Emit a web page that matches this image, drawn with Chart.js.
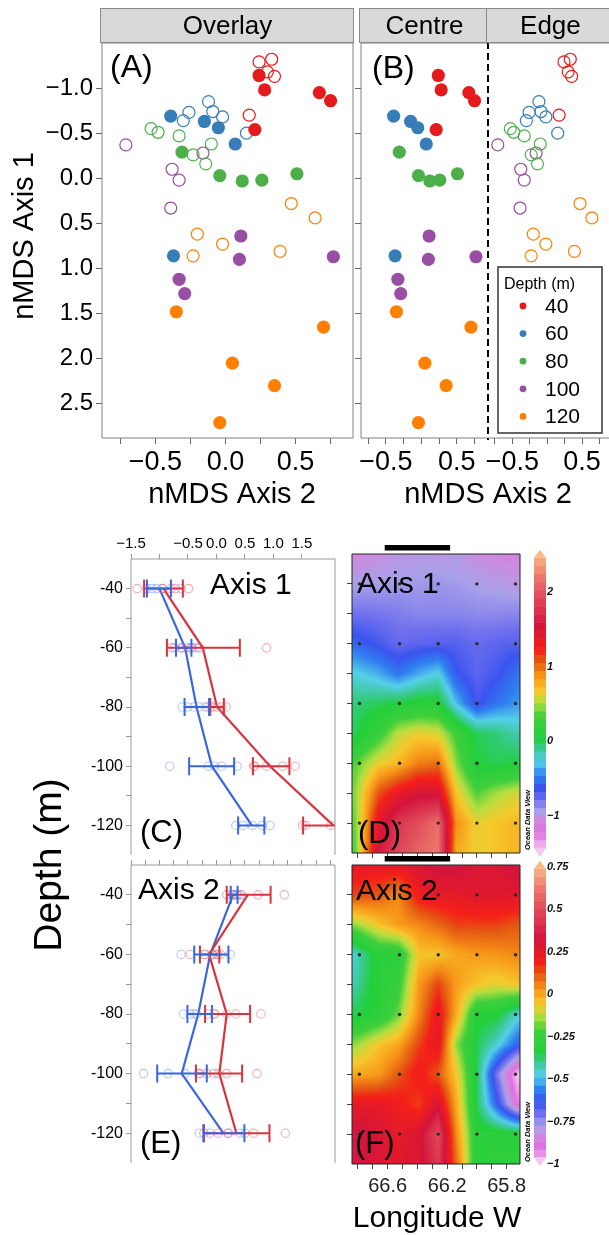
<!DOCTYPE html>
<html lang="en">
<head>
<meta charset="utf-8">
<title>nMDS community axes by depth and longitude</title>
<script src="https://cdn.jsdelivr.net/npm/chart.js@4.4.1/dist/chart.umd.min.js"></script>
<style>
  html, body { margin: 0; padding: 0; background: #fff; overflow: hidden; }
  #page { position: relative; width: 609px; height: 1235px; overflow: hidden; }
  #page canvas { position: absolute; left: 0; top: 0; pointer-events: none; }
</style>
</head>
<body>
<div id="page">
  <canvas id="chartA" width="620" height="1235"></canvas>
  <canvas id="chartBc" width="620" height="1235"></canvas>
  <canvas id="chartBe" width="620" height="1235"></canvas>
  <canvas id="chartC" width="620" height="1235"></canvas>
  <canvas id="chartD" width="620" height="1235"></canvas>
  <canvas id="chartE" width="620" height="1235"></canvas>
  <canvas id="chartF" width="620" height="1235"></canvas>
</div>
<script>
const FONT = "'Liberation Sans', Arial, Helvetica, sans-serif";
const W = 620, H = 1235;

/* nMDS scores, [Axis 2, Axis 1], centre stations (filled) and edge stations (open) */
const depthLabels = ['40', '60', '80', '100', '120'];
const depthColours = ['#e41a1c', '#377eb8', '#4daf4a', '#984ea3', '#ff7f00'];

const centre40 = [[0.24, -1.14], [0.28, -0.98], [0.67, -0.95], [0.75, -0.86], [0.21, -0.54]];
const edge40 = [[0.24, -1.29], [0.33, -1.32], [0.30, -1.18], [0.35, -1.13], [0.17, -0.70]];
const centre60 = [[-0.39, -0.69], [-0.15, -0.63], [-0.05, -0.56], [0.07, -0.38], [-0.37, 0.86]];
const edge60 = [[-0.12, -0.85], [-0.26, -0.73], [-0.30, -0.64], [-0.09, -0.74], [-0.02, -0.68], [0.15, -0.50]];
const centre80 = [[-0.31, -0.29], [-0.04, -0.03], [0.12, 0.03], [0.26, 0.02], [0.51, -0.05]];
const edge80 = [[-0.53, -0.55], [-0.48, -0.51], [-0.33, -0.47], [-0.10, -0.38], [-0.23, -0.26], [-0.14, -0.16]];
const centre100 = [[0.11, 0.64], [0.10, 0.90], [0.77, 0.87], [-0.33, 1.12], [-0.29, 1.28]];
const edge100 = [[-0.71, -0.37], [-0.16, -0.28], [-0.38, -0.10], [-0.33, 0.02], [-0.39, 0.33]];
const centre120 = [[-0.35, 1.48], [0.70, 1.65], [0.05, 2.05], [0.35, 2.30], [-0.04, 2.71]];
const edge120 = [[0.47, 0.28], [0.64, 0.44], [-0.20, 0.62], [-0.02, 0.73], [-0.23, 0.86], [0.39, 0.81]];

const centreScores = [centre40, centre60, centre80, centre100, centre120];
const edgeScores = [edge40, edge60, edge80, edge100, edge120];

const nmdsXTicks = [-0.75, -0.5, -0.25, 0, 0.25, 0.5, 0.75];
const nmdsXLabelsA = [-0.5, 0, 0.5];
const nmdsXLabelsB = [-0.5, 0.5];
const nmdsYTicks = [-1, -0.5, 0, 0.5, 1, 1.5, 2, 2.5];

/* depth profiles: centre (red) and edge (blue) means, error bars and samples */
const profileDepths = [-40, -60, -80, -100, -120];
const depthTicks = [-120, -110, -100, -90, -80, -70, -60, -50, -40];
const depthTickLabels = [-120, -100, -80, -60, -40];
const axis1Ticks = [-1.5, -1, -0.5, 0, 0.5, 1, 1.5];
const axis1TickLabels = [-1.5, -0.5, 0, 0.5, 1, 1.5];
const axis2Ticks = [-1.5, -1.25, -1, -0.75, -0.5, -0.25, 0, 0.25, 0.5, 0.75, 1, 1.25, 1.5, 1.75, 2];

const ax1CentreMean = [-0.93, -0.24, 0.01, 0.94, 2.05];
const ax1CentreLo = [-1.27, -0.87, -0.11, 0.64, 1.52];
const ax1CentreHi = [-0.59, 0.41, 0.13, 1.28, 2.58];
const ax1EdgeMean = [-1.00, -0.55, -0.35, -0.08, 0.62];
const ax1EdgeLo = [-1.22, -0.71, -0.56, -0.48, 0.38];
const ax1EdgeHi = [-0.80, -0.44, -0.13, 0.31, 0.84];
const ax1CentreSamples = [[-1.39, -0.95, -0.80, -0.72, -0.49], [-0.79, -0.60, -0.45, -0.30, 0.88], [-0.15, -0.06, 0.01, 0.09, 0.17], [0.65, 0.67, 0.88, 1.16, 1.38], [1.51, 1.56, 2.01, 2.30, 2.80]];
const ax1EdgeSamples = [[-1.22, -1.13, -1.05, -0.95, -0.62], [-0.73, -0.61, -0.52, -0.43, -0.35], [-0.60, -0.50, -0.40, -0.30, -0.20, -0.10], [-0.82, -0.14, -0.04, 0.09, 0.36], [0.34, 0.47, 0.63, 0.80, 0.94]];

const ax2CentreMean = [0.55, -0.13, 0.18, 0.05, 0.35];
const ax2CentreLo = [0.18, -0.29, -0.20, -0.36, -0.22];
const ax2CentreHi = [0.95, 0.05, 0.59, 0.45, 0.93];
const ax2EdgeMean = [0.29, -0.11, -0.32, -0.61, 0.12];
const ax2EdgeLo = [0.25, -0.39, -0.51, -1.04, -0.23];
const ax2EdgeHi = [0.37, 0.21, -0.08, -0.17, 0.49];
const ax2CentreSamples = [[0.18, 0.35, 0.44, 0.73, 1.19], [-0.46, -0.21, -0.07, 0.02, 0.07], [-0.15, -0.03, 0.18, 0.34, 0.78], [-0.29, -0.17, 0.03, 0.18, 0.71], [-0.22, 0.03, 0.21, 0.65, 1.21]];
const ax2EdgeSamples = [[0.27, 0.29, 0.31, 0.37, 0.41], [-0.62, -0.20, -0.08, 0.00, 0.24], [-0.58, -0.46, -0.39, -0.35, -0.04], [-1.28, -0.85, -0.55, -0.32, -0.05], [-0.30, -0.11, 0.20, 0.41, 0.50]];

/* sections across the eddy: gridded axis scores by longitude (W) and depth */
const stationLon = [66.79, 66.52, 66.26, 66.00, 65.74];
const stationDepth = [-40, -60, -80, -100, -120];
const centreLonRange = [66.62, 66.18];
const gridLon = [66.82, 66.66, 66.53, 66.39, 66.26, 66.14, 66.00, 65.87, 65.73];
const gridDepth = [-30, -40, -50, -60, -70, -80, -90, -100, -110, -120, -130];
const axis1Field = [
  [-1.08, -1.04, -1.00, -0.98, -1.00, -0.98, -1.04, -1.08, -1.10],
  [-0.95, -0.93, -0.92, -0.92, -0.90, -0.92, -0.95, -0.97, -1.00],
  [-0.78, -0.80, -0.82, -0.85, -0.85, -0.85, -0.86, -0.86, -0.85],
  [-0.55, -0.65, -0.75, -0.72, -0.70, -0.70, -0.75, -0.72, -0.70],
  [-0.25, -0.35, -0.50, -0.35, -0.25, -0.60, -0.72, -0.65, -0.50],
  [-0.05, 0.00, 0.05, 0.10, 0.10, -0.30, -0.65, -0.50, -0.40],
  [0.00, 0.25, 0.55, 0.65, 0.60, 0.30, 0.00, -0.05, -0.15],
  [0.35, 0.65, 0.75, 0.95, 1.00, 0.45, 0.05, 0.00, 0.05],
  [0.45, 1.10, 1.35, 1.50, 1.50, 0.70, 0.35, 0.50, 0.60],
  [0.40, 1.40, 1.80, 1.95, 2.15, 0.90, 0.65, 0.70, 0.75],
  [0.35, 1.60, 1.90, 2.10, 2.20, 0.80, 0.65, 0.70, 0.75]
];
const axis2Field = [
  [0.25, 0.25, 0.25, 0.30, 0.35, 0.35, 0.30, 0.30, 0.35],
  [0.15, 0.12, 0.05, 0.22, 0.25, 0.25, 0.28, 0.28, 0.27],
  [-0.15, -0.05, 0.02, 0.05, 0.10, 0.15, 0.15, 0.15, 0.12],
  [-0.45, -0.30, -0.30, -0.05, -0.05, 0.00, 0.02, 0.03, 0.05],
  [-0.42, -0.30, -0.25, 0.02, 0.15, 0.02, -0.05, -0.08, -0.05],
  [-0.35, -0.30, -0.18, 0.05, 0.25, 0.00, -0.32, -0.32, -0.45],
  [-0.15, -0.05, 0.00, 0.15, 0.25, -0.15, -0.35, -0.45, -0.60],
  [0.00, 0.02, 0.12, 0.22, 0.12, -0.05, -0.35, -0.70, -1.00],
  [0.25, 0.25, 0.22, 0.15, 0.30, 0.00, -0.35, -0.60, -0.90],
  [0.35, 0.30, 0.25, 0.30, 0.50, 0.05, -0.30, -0.30, -0.30],
  [0.35, 0.30, 0.28, 0.30, 0.45, 0.10, -0.30, -0.28, -0.28]
];
const lonTicks = [66.8, 66.7, 66.6, 66.5, 66.4, 66.3, 66.2, 66.1, 66.0, 65.9, 65.8];
const lonTickLabels = [66.6, 66.2, 65.8];
const axis1BarTicks = [-1, 0, 1, 2];
const axis2BarTicks = [-1, -0.75, -0.5, -0.25, 0, 0.25, 0.5, 0.75];

// ODV-style palette, position 0..1 -> rgb
const odvStops = [
  [0.00, [243, 198, 243]], [0.06, [225, 111, 225]], [0.10, [204, 140, 222]],
  [0.13, [168, 160, 232]], [0.17, [112, 112, 238]], [0.21, [58, 84, 238]],
  [0.25, [47, 126, 240]], [0.30, [85, 207, 232]], [0.34, [60, 201, 154]],
  [0.38, [34, 207, 58]], [0.45, [63, 207, 60]], [0.50, [180, 222, 64]],
  [0.54, [246, 200, 44]], [0.59, [247, 148, 24]], [0.64, [228, 90, 18]],
  [0.68, [244, 32, 24]], [0.76, [211, 20, 60]], [0.86, [224, 76, 92]],
  [0.93, [239, 122, 108]], [1.00, [248, 188, 140]]
];

const RED = '#d8343f', BLUE = '#3a66e0';
const RED_FAINT = 'rgba(232,90,100,0.5)', BLUE_FAINT = 'rgba(90,130,235,0.45)';

function fmt(v, d) { return (v < 0 ? '\u2212' : '') + Math.abs(v).toFixed(d); }
function has(arr, v) { return arr.some(a => Math.abs(a - v) < 1e-6); }
function rgb(c) { return 'rgb(' + c[0] + ',' + c[1] + ',' + c[2] + ')'; }

function colourAt(t) {
  t = Math.max(0, Math.min(1, t));
  for (let i = 0; i < odvStops.length - 1; i++) {
    const [t0, c0] = odvStops[i], [t1, c1] = odvStops[i + 1];
    if (t <= t1) {
      const f = (t - t0) / (t1 - t0);
      return [0, 1, 2].map(k => Math.round(c0[k] + (c1[k] - c0[k]) * f));
    }
  }
  return odvStops[odvStops.length - 1][1];
}

// index + fraction of v inside a monotonic grid
function locate(arr, v) {
  const n = arr.length;
  for (let i = 0; i < n - 1; i++) {
    const a = arr[i], b = arr[i + 1];
    if ((v - a) * (v - b) <= 0) return [i, (v - a) / (b - a)];
  }
  const nearFirst = Math.abs(v - arr[0]) < Math.abs(v - arr[n - 1]);
  return nearFirst ? [0, 0] : [n - 2, 1];
}

function sampleField(field, lon, dep) {
  const [i, fx] = locate(gridLon, lon);
  const [j, fy] = locate(gridDepth, dep);
  const a = field[j][i], b = field[j][i + 1], c = field[j + 1][i], d = field[j + 1][i + 1];
  return (a * (1 - fx) + b * fx) * (1 - fy) + (c * (1 - fx) + d * fx) * fy;
}

/* layout helpers: every canvas covers the page, the plot box is set by padding */
function padding(area, sizes) {
  return {
    left: area.l - (sizes.left || 0), top: area.t - (sizes.top || 0),
    right: W - area.r - (sizes.right || 0), bottom: H - area.b - (sizes.bottom || 0)
  };
}

function axis(o) {
  const side = o.pos === 'left' || o.pos === 'right';
  return {
    type: 'linear', position: o.pos, min: o.min, max: o.max, reverse: !!o.reverse,
    display: o.display !== false,
    afterBuildTicks: s => { s.ticks = o.ticks.map(v => ({ value: v })); },
    afterFit: s => { if (side) s.width = o.size; else s.height = o.size; },
    grid: { drawOnChartArea: false, drawTicks: o.tickLen !== 0, tickLength: o.tickLen || 0, color: o.tickColour || '#666', lineWidth: 1 },
    border: { display: false },
    ticks: {
      autoSkip: false, maxRotation: 0, minRotation: 0, padding: o.pad || 0,
      color: o.colour || '#000', font: o.font || { family: FONT, size: 12 },
      callback: o.label || (() => '')
    }
  };
}

function baseOptions(area, sizes, scales) {
  return {
    responsive: false, animation: false, events: [],
    layout: { padding: padding(area, sizes) },
    plugins: { legend: { display: false }, tooltip: { enabled: false } },
    scales: scales
  };
}

/* plugins */
function framePlugin(sides, colour, width) {
  return {
    id: 'frame',
    afterDraw(chart) {
      const { left, top, right, bottom } = chart.chartArea, ctx = chart.ctx;
      ctx.save();
      ctx.strokeStyle = colour; ctx.lineWidth = width || 1;
      ctx.beginPath();
      if (sides.includes('l')) { ctx.moveTo(left, top); ctx.lineTo(left, bottom); }
      if (sides.includes('r')) { ctx.moveTo(right, top); ctx.lineTo(right, bottom); }
      if (sides.includes('t')) { ctx.moveTo(left, top); ctx.lineTo(right, top); }
      if (sides.includes('b')) { ctx.moveTo(left, bottom); ctx.lineTo(right, bottom); }
      ctx.stroke();
      ctx.restore();
    }
  };
}

function notesPlugin(items) {
  return {
    id: 'notes',
    afterDraw(chart) {
      const ctx = chart.ctx;
      items.forEach(n => {
        ctx.save();
        ctx.font = n.font;
        ctx.fillStyle = n.colour || '#000';
        ctx.textAlign = n.align || 'left';
        ctx.textBaseline = n.baseline || 'alphabetic';
        ctx.translate(n.x, n.y);
        if (n.rotate) ctx.rotate(n.rotate);
        ctx.fillText(n.text, 0, 0);
        ctx.restore();
      });
    }
  };
}

function stripPlugin(text, dashed) {
  return {
    id: 'strip',
    afterDraw(chart) {
      const { left, right, top, bottom } = chart.chartArea, ctx = chart.ctx;
      ctx.save();
      ctx.fillStyle = '#d9d9d9';
      ctx.strokeStyle = '#8a8a8a';
      ctx.lineWidth = 1;
      ctx.fillRect(left - 1, top - 35, right - left + 1, 35);
      ctx.strokeRect(left - 1.5, top - 34.5, right - left + 2, 34);
      ctx.fillStyle = '#000';
      ctx.font = '26px ' + FONT;
      ctx.textAlign = 'center';
      ctx.textBaseline = 'middle';
      ctx.fillText(text, (left + right) / 2, top - 16);
      if (dashed) {
        ctx.strokeStyle = '#000';
        ctx.lineWidth = 2;
        ctx.setLineDash([7, 4]);
        ctx.beginPath();
        ctx.moveTo(right, top - 34);
        ctx.lineTo(right, bottom + 2);
        ctx.stroke();
      }
      ctx.restore();
    }
  };
}

function depthLegendPlugin() {
  return {
    id: 'depthLegend',
    afterDraw(chart) {
      const ctx = chart.ctx;
      ctx.save();
      ctx.fillStyle = '#fff';
      ctx.fillRect(498, 267, 104, 166);
      ctx.strokeStyle = '#333';
      ctx.lineWidth = 1.5;
      ctx.strokeRect(498, 267, 104, 166);
      ctx.fillStyle = '#000';
      ctx.font = '16px ' + FONT;
      ctx.fillText('Depth (m)', 504, 289);
      depthLabels.forEach((lab, i) => {
        const cy = 306 + i * 27.6;
        ctx.fillStyle = depthColours[i];
        ctx.beginPath();
        ctx.arc(523, cy, 3.4, 0, 2 * Math.PI);
        ctx.fill();
        ctx.fillStyle = '#000';
        ctx.font = '21px ' + FONT;
        ctx.textBaseline = 'middle';
        ctx.fillText(lab, 545, cy + 1);
      });
      ctx.restore();
    }
  };
}

function errorBarPlugin(bars) {
  return {
    id: 'errorBars',
    afterDatasetsDraw(chart) {
      const { ctx, chartArea: a, scales: { x, y } } = chart;
      ctx.save();
      ctx.beginPath();
      ctx.rect(a.left, a.top - 15, a.right - a.left, a.bottom - a.top + 30);
      ctx.clip();
      bars.forEach(b => {
        ctx.strokeStyle = b.colour;
        ctx.lineWidth = 2;
        profileDepths.forEach((d, i) => {
          const py = y.getPixelForValue(d);
          const x0 = x.getPixelForValue(b.lo[i]), x1 = x.getPixelForValue(b.hi[i]);
          ctx.beginPath();
          ctx.moveTo(x0, py); ctx.lineTo(x1, py);
          ctx.moveTo(x0, py - 9); ctx.lineTo(x0, py + 9);
          ctx.moveTo(x1, py - 9); ctx.lineTo(x1, py + 9);
          ctx.stroke();
        });
      });
      ctx.restore();
    }
  };
}

function fieldPlugin(field, vmin, vmax) {
  return {
    id: 'field',
    beforeDatasetsDraw(chart) {
      const { left, top, right, bottom } = chart.chartArea;
      const xs = chart.scales.x, ys = chart.scales.y;
      const w = Math.round(right - left), h = Math.round(bottom - top);
      const off = document.createElement('canvas');
      off.width = w; off.height = h;
      const octx = off.getContext('2d');
      const img = octx.createImageData(w, h);
      for (let j = 0; j < h; j++) {
        const dep = ys.getValueForPixel(top + j + 0.5);
        for (let i = 0; i < w; i++) {
          const lon = xs.getValueForPixel(left + i + 0.5);
          const c = colourAt((sampleField(field, lon, dep) - vmin) / (vmax - vmin));
          const k = 4 * (j * w + i);
          img.data[k] = c[0]; img.data[k + 1] = c[1]; img.data[k + 2] = c[2]; img.data[k + 3] = 255;
        }
      }
      octx.putImageData(img, 0, 0);
      chart.ctx.drawImage(off, left, top);
    }
  };
}

function colourBarPlugin(vmin, vmax, lo, hi) {
  return {
    id: 'colourBar',
    afterDraw(chart) {
      const ctx = chart.ctx, s = chart.scales.cb, a = chart.chartArea;
      const x0 = a.right + 14, w = 12, n = 36;
      ctx.save();
      for (let k = 0; k < n; k++) {
        const v0 = lo + (hi - lo) * k / n, v1 = lo + (hi - lo) * (k + 1) / n;
        ctx.fillStyle = rgb(colourAt(((v0 + v1) / 2 - vmin) / (vmax - vmin)));
        const ya = s.getPixelForValue(v1), yb = s.getPixelForValue(v0);
        ctx.fillRect(x0, ya, w, yb - ya + 0.6);
      }
      const yHi = s.getPixelForValue(hi), yLo = s.getPixelForValue(lo);
      ctx.fillStyle = rgb(colourAt(1));
      ctx.beginPath(); ctx.moveTo(x0, yHi); ctx.lineTo(x0 + w, yHi); ctx.lineTo(x0 + w / 2, yHi - 8); ctx.fill();
      ctx.fillStyle = rgb(colourAt(0));
      ctx.beginPath(); ctx.moveTo(x0, yLo); ctx.lineTo(x0 + w, yLo); ctx.lineTo(x0 + w / 2, yLo + 9); ctx.fill();
      ctx.restore();
    }
  };
}

function sectionBarPlugin() {
  return {
    id: 'sectionBar',
    afterDraw(chart) {
      const x = chart.scales.x, top = chart.chartArea.top, ctx = chart.ctx;
      const x0 = x.getPixelForValue(centreLonRange[0]), x1 = x.getPixelForValue(centreLonRange[1]);
      ctx.save();
      ctx.fillStyle = '#000';
      ctx.fillRect(x0, top - 9, x1 - x0, 5.5);
      ctx.restore();
    }
  };
}

/* datasets */
function scoreSet(points, i, filled) {
  return {
    data: points.map(p => ({ x: p[0], y: p[1] })),
    pointRadius: filled ? 6.6 : 6.0,
    pointBorderWidth: filled ? 0 : 1.2,
    pointBackgroundColor: filled ? depthColours[i] : 'rgba(0,0,0,0)',
    pointBorderColor: depthColours[i]
  };
}

function sampleSet(samples, colour) {
  const pts = [];
  samples.forEach((row, i) => row.forEach(v => pts.push({ x: v, y: profileDepths[i] })));
  return { data: pts, pointRadius: 4.2, pointBorderWidth: 1.1, pointBackgroundColor: 'rgba(0,0,0,0)', pointBorderColor: colour };
}

function meanSet(means, colour) {
  return {
    data: means.map((v, i) => ({ x: v, y: profileDepths[i] })),
    showLine: true, borderColor: colour, borderWidth: 2.2, pointRadius: 0, fill: false, tension: 0
  };
}

function stationSet() {
  const pts = [];
  stationDepth.forEach(d => stationLon.forEach(l => pts.push({ x: l, y: d })));
  return { data: pts, pointRadius: 1.7, pointBorderWidth: 0, pointBackgroundColor: '#2b2b2b' };
}

const tickFontX = { family: FONT, size: 27 };
const tickFontY = { family: FONT, size: 24 };
const nmdsY = { min: -1.5, max: 2.88, reverse: true, ticks: nmdsYTicks };

/* (A) overlay of all stations */
const areaA = { l: 102, t: 43, r: 353, b: 438 };
const setsA = [];
depthLabels.forEach((d, i) => { setsA.push(scoreSet(edgeScores[i], i, false)); setsA.push(scoreSet(centreScores[i], i, true)); });
new Chart(document.getElementById('chartA'), {
  type: 'scatter',
  data: { datasets: setsA },
  options: baseOptions(areaA, { left: 102, bottom: 50 }, {
    x: axis({ pos: 'bottom', min: -0.88, max: 0.91, ticks: nmdsXTicks, size: 50, tickLen: 6, pad: 2, font: tickFontX, tickColour: '#666',
      label: v => has(nmdsXLabelsA, v) ? fmt(v, 1) : '' }),
    y: axis({ pos: 'left', ...nmdsY, size: 102, tickLen: 6, pad: 3, font: tickFontY, tickColour: '#666', label: v => fmt(v, 1) })
  }),
  plugins: [framePlugin('ltrb', '#808080'), stripPlugin('Overlay', false), notesPlugin([
    { text: '(A)', x: 110, y: 77, font: '32px ' + FONT },
    { text: 'nMDS Axis 1', x: 25, y: 236, font: '29px ' + FONT, align: 'center', baseline: 'middle', rotate: -Math.PI / 2 },
    { text: 'nMDS Axis 2', x: 232, y: 503, font: '29px ' + FONT, align: 'center' }
  ])]
});

/* (B) centre and edge stations side by side */
const areaBc = { l: 361, t: 43, r: 488, b: 438 };
const areaBe = { l: 488, t: 43, r: 615, b: 438 };
const nmdsXB = { min: -0.85, max: 0.94, ticks: nmdsXTicks, size: 50, tickLen: 6, pad: 2, font: tickFontX, tickColour: '#666',
  label: v => has(nmdsXLabelsB, v) ? fmt(v, 1) : '' };
new Chart(document.getElementById('chartBc'), {
  type: 'scatter',
  data: { datasets: depthLabels.map((d, i) => scoreSet(centreScores[i], i, true)) },
  options: baseOptions(areaBc, { left: 12, bottom: 50 }, {
    x: axis({ pos: 'bottom', ...nmdsXB }),
    y: axis({ pos: 'left', ...nmdsY, size: 12, tickLen: 6, tickColour: '#666' })
  }),
  plugins: [framePlugin('ltb', '#808080'), stripPlugin('Centre', true), notesPlugin([
    { text: '(B)', x: 372, y: 78, font: '32px ' + FONT },
    { text: 'nMDS Axis 2', x: 488, y: 503, font: '29px ' + FONT, align: 'center' }
  ])]
});
new Chart(document.getElementById('chartBe'), {
  type: 'scatter',
  data: { datasets: depthLabels.map((d, i) => scoreSet(edgeScores[i], i, false)) },
  options: baseOptions(areaBe, { bottom: 50 }, {
    x: axis({ pos: 'bottom', ...nmdsXB }),
    y: axis({ pos: 'left', ...nmdsY, display: false, size: 0 })
  }),
  plugins: [framePlugin('tbr', '#808080'), stripPlugin('Edge', false), depthLegendPlugin()]
});

/* (C) and (E) depth profiles */
const profileY = { min: -130, max: -30, ticks: depthTicks, size: 131, tickLen: 5, pad: 3, font: { family: FONT, size: 16 }, tickColour: '#999',
  label: v => has(depthTickLabels, v) ? String(v) : '' };
const profileX = { min: -1.5, max: 2.08 };

const areaC = { l: 131, t: 559, r: 335, b: 855 };
new Chart(document.getElementById('chartC'), {
  type: 'scatter',
  data: { datasets: [sampleSet(ax1CentreSamples, RED_FAINT), sampleSet(ax1EdgeSamples, BLUE_FAINT), meanSet(ax1CentreMean, RED), meanSet(ax1EdgeMean, BLUE)] },
  options: baseOptions(areaC, { left: 131, top: 30 }, {
    x: axis({ pos: 'top', ...profileX, ticks: axis1Ticks, size: 30, tickLen: 5, pad: 1, font: { family: FONT, size: 15 }, tickColour: '#999',
      label: v => has(axis1TickLabels, v) ? fmt(v, 1) : '' }),
    y: axis({ pos: 'left', ...profileY })
  }),
  plugins: [errorBarPlugin([{ lo: ax1CentreLo, hi: ax1CentreHi, colour: RED }, { lo: ax1EdgeLo, hi: ax1EdgeHi, colour: BLUE }]),
    framePlugin('ltr', '#9a9a9a'), notesPlugin([
      { text: 'Axis 1', x: 210, y: 594, font: '30px ' + FONT },
      { text: '(C)', x: 140, y: 842, font: '31px ' + FONT }
    ])]
});

const areaE = { l: 131, t: 865, r: 335, b: 1163 };
new Chart(document.getElementById('chartE'), {
  type: 'scatter',
  data: { datasets: [sampleSet(ax2CentreSamples, RED_FAINT), sampleSet(ax2EdgeSamples, BLUE_FAINT), meanSet(ax2CentreMean, RED), meanSet(ax2EdgeMean, BLUE)] },
  options: baseOptions(areaE, { left: 131, top: 10 }, {
    x: axis({ pos: 'top', ...profileX, ticks: axis2Ticks, size: 10, tickLen: 5, tickColour: '#999' }),
    y: axis({ pos: 'left', ...profileY })
  }),
  plugins: [errorBarPlugin([{ lo: ax2CentreLo, hi: ax2CentreHi, colour: RED }, { lo: ax2EdgeLo, hi: ax2EdgeHi, colour: BLUE }]),
    framePlugin('ltr', '#9a9a9a'), notesPlugin([
      { text: 'Axis 2', x: 138, y: 899, font: '30px ' + FONT },
      { text: '(E)', x: 140, y: 1153, font: '31px ' + FONT },
      { text: 'Depth (m)', x: 50, y: 865, font: '39px ' + FONT, align: 'center', baseline: 'middle', rotate: -Math.PI / 2 }
    ])]
});

/* (D) and (F) longitude sections */
const lonX = { min: 65.71, max: 66.84, reverse: true, ticks: lonTicks, tickLen: 5, tickColour: '#444' };
const sectionY = { min: -130, max: -30, ticks: depthTicks, size: 10, tickLen: 5, tickColour: '#444' };
const barFont = { family: FONT, size: 11, weight: 'bold', style: 'italic' };
const odvNote = y => ({ text: 'Ocean Data View', x: 528, y: y, font: 'italic bold 7.5px ' + FONT, align: 'center', baseline: 'middle', rotate: -Math.PI / 2 });

const areaD = { l: 352, t: 554, r: 520, b: 853 };
new Chart(document.getElementById('chartD'), {
  type: 'scatter',
  data: { datasets: [stationSet()] },
  options: baseOptions(areaD, { left: 10, bottom: 10, right: 60 }, {
    x: axis({ pos: 'bottom', ...lonX, size: 10 }),
    y: axis({ pos: 'left', ...sectionY }),
    cb: axis({ pos: 'right', min: -1.5, max: 2.51, ticks: axis1BarTicks, size: 60, tickLen: 0, pad: 27, font: barFont, colour: '#111',
      label: v => fmt(v, 0) })
  }),
  plugins: [fieldPlugin(axis1Field, -1.45, 2.5), colourBarPlugin(-1.45, 2.5, -1.43, 2.46), framePlugin('ltrb', '#222'),
    sectionBarPlugin(), notesPlugin([
      { text: 'Axis 1', x: 357, y: 593, font: '30px ' + FONT },
      { text: '(D)', x: 358, y: 843, font: '31px ' + FONT },
      odvNote(820)
    ])]
});

const areaF = { l: 352, t: 865, r: 520, b: 1164 };
new Chart(document.getElementById('chartF'), {
  type: 'scatter',
  data: { datasets: [stationSet()] },
  options: baseOptions(areaF, { left: 10, bottom: 40, right: 60 }, {
    x: axis({ pos: 'bottom', ...lonX, size: 40, pad: 5, font: { family: FONT, size: 20 }, colour: '#222',
      label: v => has(lonTickLabels, v) ? v.toFixed(1) : '' }),
    y: axis({ pos: 'left', ...sectionY }),
    cb: axis({ pos: 'right', min: -1.0, max: 0.762, ticks: axis2BarTicks, size: 60, tickLen: 0, pad: 27, font: barFont, colour: '#111',
      label: v => (v < 0 ? '\u2212' : '') + String(Math.abs(v)) })
  }),
  plugins: [fieldPlugin(axis2Field, -1.0, 0.75), colourBarPlugin(-1.0, 0.75, -0.96, 0.74), framePlugin('ltrb', '#222'),
    sectionBarPlugin(), notesPlugin([
      { text: 'Axis 2', x: 356, y: 900, font: '30px ' + FONT },
      { text: '(F)', x: 355, y: 1153, font: '31px ' + FONT },
      { text: 'Longitude W', x: 437, y: 1227, font: '30px ' + FONT, align: 'center' },
      odvNote(1132)
    ])]
});
</script>
</body>
</html>
